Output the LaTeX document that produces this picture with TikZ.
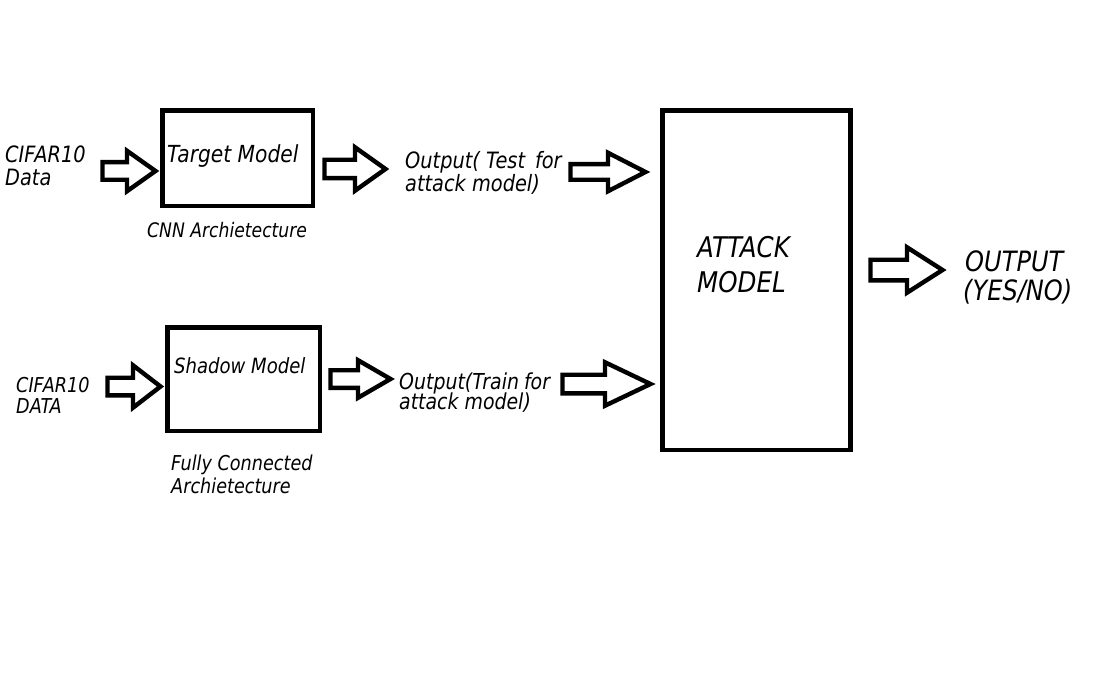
\documentclass[tikz,border=0pt]{standalone}
\usepackage{fontspec}
\setmainfont{DejaVu Sans}[FakeStretch=0.86]
\usetikzlibrary{calc}
\tikzset{
  box/.style={draw=black, line width=4.6pt, line join=miter},
  barrow/.style={draw=black, line width=4.4pt, line join=miter, fill=white},
  lbl/.style={anchor=base west, inner sep=0pt, font=\itshape},
}
\newcommand\fsz[1]{\fontsize{#1}{#1}\selectfont}
% tail, tip, head length, shaft half width, head half width
\newcommand\blockarrow[5]{%
  \draw[barrow] let \p1=(#1), \p2=(#2) in
    (\x1,\y1+#4pt) -- (\x2-#3pt,\y1+#4pt) -- (\x2-#3pt,\y1+#5pt) -- (\x2,\y2)
    -- (\x2-#3pt,\y1-#5pt) -- (\x2-#3pt,\y1-#4pt) -- (\x1,\y1-#4pt) -- cycle;}
\begin{document}
\begin{tikzpicture}[x=1pt,y=-1pt]
\fill[white] (0,0) rectangle (1103,679);
\useasboundingbox (0,0) rectangle (1103,679);

% boxes
\draw[box] (162.5,110.5) rectangle (313,206);
\draw[box] (167.5,327.5) rectangle (320,431);
\draw[box] (662.5,110.5) rectangle (850.5,450);
\coordinate (target) at (237.5,158);
\coordinate (shadow) at (243.5,379);
\coordinate (attack) at (756.5,280);

% texts
\node[lbl] (cifA) at (5,163) {\fsz{22.5}CIFAR10};
\node[lbl] (dataA) at (5,186) {\fsz{22.5}Data};
\node[lbl] (tm) at (167,163) {\fsz{23.5}Target Model};
\node[lbl] (cnn) at (147,237) {\fsz{20}CNN Archietecture};
\node[lbl] (outT1) at (405,169) {\fsz{22.5}Output( Test\, for};
\node[lbl] (outT2) at (405,192) {\fsz{22.5}attack model)};

\node[lbl] (cifB) at (16,392) {\fsz{20.5}CIFAR10};
\node[lbl] (dataB) at (16,413) {\fsz{20.5}DATA};
\node[lbl] (sm) at (174,373) {\fsz{21}Shadow Model};
\node[lbl] (fc1) at (171,470) {\fsz{20.5}Fully Connected};
\node[lbl] (fc2) at (171,493) {\fsz{20.5}Archietecture};
\node[lbl] (outS1) at (399,389) {\fsz{22}Output(Train\kern-1pt\ for};
\node[lbl] (outS2) at (399,409) {\fsz{22}attack model)};

\node[lbl] (at1) at (697,258) {\fsz{28.5}ATTACK};
\node[lbl] (at2) at (697,292) {\fsz{28.5}MODEL};
\node[lbl] (res1) at (965,271) {\fsz{28}OUTPUT};
\node[lbl] (res2) at (963,300) {\fsz{28}(YES/NO)};

% arrow end points
\coordinate (a1s) at (102.5,171);  \coordinate (a1e) at (155.5,171);
\coordinate (a2s) at (324.5,169);  \coordinate (a2e) at (385.5,169);
\coordinate (a3s) at (107.5,386.5);\coordinate (a3e) at (160.5,386.5);
\coordinate (a4s) at (330.5,379);  \coordinate (a4e) at (390.5,379);
\coordinate (a5s) at (570.5,172);  \coordinate (a5e) at (645.5,172);
\coordinate (a6s) at (562.5,384);  \coordinate (a6e) at (650.5,384);
\coordinate (a7s) at (870.5,270);  \coordinate (a7e) at (942.5,270);

\blockarrow{a1s}{a1e}{28.5}{8.8}{20.2}
\blockarrow{a2s}{a2e}{30.5}{9.2}{21.7}
\blockarrow{a3s}{a3e}{27.5}{8.8}{21.2}
\blockarrow{a4s}{a4e}{32.5}{8.8}{18.8}
\blockarrow{a5s}{a5e}{37.5}{7.8}{19.2}
\blockarrow{a6s}{a6e}{45.5}{9.3}{21.7}
\blockarrow{a7s}{a7e}{35.5}{10.3}{22.7}
\end{tikzpicture}
\end{document}
